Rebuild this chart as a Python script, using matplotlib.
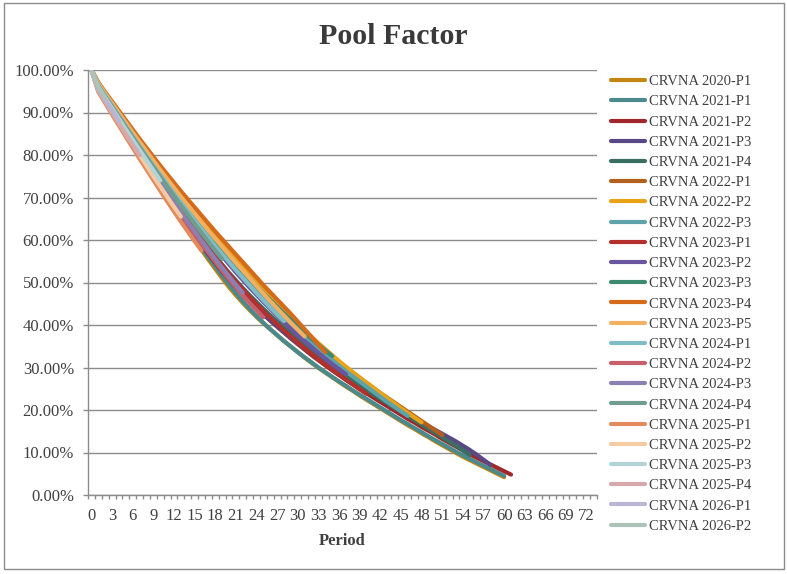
import matplotlib
matplotlib.use("Agg")
import matplotlib.pyplot as plt
from matplotlib.patches import Rectangle
from matplotlib.ticker import FixedLocator, FuncFormatter, NullFormatter

series_names = [
    "CRVNA 2020-P1", "CRVNA 2021-P1", "CRVNA 2021-P2", "CRVNA 2021-P3", "CRVNA 2021-P4",
    "CRVNA 2022-P1", "CRVNA 2022-P2", "CRVNA 2022-P3", "CRVNA 2023-P1", "CRVNA 2023-P2",
    "CRVNA 2023-P3", "CRVNA 2023-P4", "CRVNA 2023-P5", "CRVNA 2024-P1", "CRVNA 2024-P2",
    "CRVNA 2024-P3", "CRVNA 2024-P4", "CRVNA 2025-P1", "CRVNA 2025-P2", "CRVNA 2025-P3",
    "CRVNA 2025-P4", "CRVNA 2026-P1", "CRVNA 2026-P2",
]

colors = [
    "#C0860F", "#4A8A8C", "#A0282A", "#5A4785", "#3A6E62",
    "#B4601C", "#E8A316", "#5FA3AA", "#B3302C", "#6A55A0",
    "#3E8A70", "#D46A1A", "#F2B062", "#80BCC6", "#C8606A",
    "#8A80B2", "#6F9E90", "#E38A5E", "#F5C9A2", "#B3D3D6",
    "#D6A8AC", "#B9B5D2", "#ADC3B8",
]

# Pool factor (%) by period, starting at period 0
crvna_2020_p1 = [100.0, 95.5, 92.9, 90.3, 87.7, 85.1, 82.5, 79.9, 77.3, 74.8,
                 72.3, 69.8, 67.3, 64.8, 62.4, 60.0, 57.7, 55.4, 53.2, 51.0,
                 48.9, 47.0, 45.2, 43.5, 41.9, 40.4, 39.0, 37.6, 36.2, 34.9,
                 33.6, 32.3, 31.1, 29.9, 28.8, 27.7, 26.6, 25.5, 24.5, 23.4,
                 22.4, 21.4, 20.4, 19.4, 18.4, 17.4, 16.4, 15.5, 14.5, 13.6,
                 12.6, 11.7, 10.8, 9.9, 9.0, 8.2, 7.4, 6.6, 5.8, 5.0, 4.2]
crvna_2021_p1 = [100.0, 95.0, 92.5, 90.0, 87.5, 85.0, 82.5, 80.0, 77.5, 75.0,
                 72.6, 70.2, 67.8, 65.4, 63.0, 60.6, 58.3, 56.0, 53.8, 51.6,
                 49.5, 47.5, 45.6, 43.8, 42.1, 40.5, 39.0, 37.6, 36.2, 34.9,
                 33.6, 32.4, 31.2, 30.0, 28.9, 27.8, 26.7, 25.7, 24.6, 23.6,
                 22.6, 21.6, 20.6, 19.6, 18.6, 17.6, 16.7, 15.7, 14.8, 13.8,
                 12.9, 12.0, 11.1, 10.2, 9.3, 8.5, 7.7, 6.9, 6.1, 5.3, 4.5]
crvna_2021_p2 = [100.0, 96.0, 93.4, 90.8, 88.2, 85.6, 83.0, 80.4, 77.9, 75.4,
                 72.9, 70.5, 68.1, 65.7, 63.4, 61.1, 58.9, 56.7, 54.6, 52.6,
                 50.7, 48.9, 47.2, 45.6, 44.0, 42.5, 41.0, 39.6, 38.2, 36.8,
                 35.5, 34.2, 32.9, 31.7, 30.5, 29.3, 28.2, 27.1, 26.0, 24.9,
                 23.9, 22.9, 21.9, 20.9, 19.9, 18.9, 17.9, 17.0, 16.0, 15.1,
                 14.2, 13.2, 12.3, 11.4, 10.5, 9.6, 8.8, 8.0, 7.2, 6.4, 5.6, 4.8]
crvna_2021_p3 = [100.0, 95.8, 93.2, 90.6, 88.0, 85.4, 82.8, 80.2, 77.7, 75.2,
                 72.7, 70.3, 67.9, 65.6, 63.3, 61.1, 58.9, 56.8, 54.8, 52.8,
                 50.9, 49.1, 47.4, 45.7, 44.1, 42.6, 41.1, 39.7, 38.3, 37.0,
                 35.7, 34.4, 33.2, 32.0, 30.8, 29.7, 28.6, 27.5, 26.4, 25.4,
                 24.8, 23.8, 22.8, 21.8, 20.8, 19.8, 18.9, 18.0, 17.1, 16.2,
                 15.3, 14.4, 13.5, 12.6, 11.6, 10.6, 9.5, 8.3, 7.1]
crvna_2021_p4 = [100.0, 96.3, 93.8, 91.3, 88.8, 86.3, 83.8, 81.3, 78.9, 76.5,
                 74.1, 71.8, 69.5, 67.2, 64.9, 62.7, 60.5, 58.3, 56.2, 54.2,
                 52.3, 50.5, 48.7, 47.0, 45.4, 43.8, 42.3, 40.8, 39.4, 38.0,
                 36.6, 35.3, 34.0, 32.7, 31.5, 30.3, 29.1, 28.0, 26.9, 25.8,
                 24.7, 23.7, 22.6, 21.6, 20.6, 19.6, 18.6, 17.6, 16.6, 15.6,
                 14.6, 13.6, 12.6, 11.6, 10.5, 9.4]
crvna_2022_p1 = [100.0, 96.8, 94.4, 92.0, 89.7, 87.4, 85.1, 82.8, 80.6, 78.4,
                 76.2, 74.1, 72.0, 69.9, 67.9, 65.9, 63.9, 62.0, 60.1, 58.2,
                 56.4, 54.6, 52.8, 51.0, 49.3, 47.6, 45.9, 44.3, 42.7, 41.1,
                 39.6, 38.1, 36.7, 35.3, 33.9, 32.6, 31.3, 30.0, 28.8, 27.6,
                 26.4, 25.2, 24.0, 22.9, 21.8, 20.7, 19.6, 18.5, 17.4, 16.3,
                 15.2, 14.1]
crvna_2022_p2 = [100.0, 97.0, 94.6, 92.3, 90.0, 87.7, 85.5, 83.3, 81.1, 78.9,
                 76.8, 74.7, 72.6, 70.6, 68.6, 66.6, 64.7, 62.8, 60.9, 59.0,
                 57.2, 55.4, 53.6, 51.8, 50.1, 48.4, 46.7, 45.0, 43.4, 41.8,
                 40.2, 38.7, 37.2, 35.7, 34.3, 32.9, 31.5, 30.2, 28.9, 27.6,
                 26.4, 25.2, 24.0, 22.8, 21.6, 20.4, 19.3, 18.2, 17.1]
crvna_2022_p3 = [100.0, 96.6, 94.2, 91.8, 89.4, 87.1, 84.8, 82.5, 80.2, 78.0,
                 75.8, 73.6, 71.5, 69.4, 67.3, 65.3, 63.3, 61.3, 59.4, 57.5,
                 55.6, 53.8, 52.0, 50.2, 48.5, 46.8, 45.1, 43.5, 41.9, 40.3,
                 38.8, 37.3, 35.8, 34.4, 33.0, 31.7, 30.4, 29.1, 27.9, 26.7,
                 25.5, 24.3, 23.1, 21.9, 20.8, 19.7, 18.6]
crvna_2023_p1 = [100.0, 96.2, 93.7, 91.2, 88.7, 86.2, 83.7, 81.2, 78.8, 76.4,
                 74.0, 71.6, 69.3, 67.0, 64.7, 62.5, 60.3, 58.2, 56.1, 54.1,
                 52.1, 50.2, 48.4, 46.6, 44.9, 43.3, 41.7, 40.2, 38.7, 37.3,
                 35.9, 34.5, 33.2, 31.9, 30.7, 29.5, 28.3, 27.1, 26.0, 24.9, 23.8]
crvna_2023_p2 = [100.0, 96.5, 94.0, 91.5, 89.1, 86.7, 84.3, 81.9, 79.6, 77.3,
                 75.0, 72.8, 70.6, 68.4, 66.3, 64.2, 62.1, 60.1, 58.1, 56.2,
                 54.3, 52.4, 50.6, 48.8, 47.1, 45.4, 43.8, 42.2, 40.6, 39.1,
                 37.6, 36.2, 34.8, 33.4, 32.1, 30.8, 29.6, 28.4]
crvna_2023_p3 = [100.0, 96.7, 94.3, 91.9, 89.5, 87.2, 84.9, 82.6, 80.4, 78.2,
                 76.0, 73.9, 71.8, 69.7, 67.7, 65.7, 63.7, 61.8, 59.9, 58.0,
                 56.2, 54.4, 52.6, 50.9, 49.2, 47.5, 45.9, 44.3, 42.7, 41.2,
                 39.7, 38.2, 36.8, 35.4, 34.0, 32.7]
crvna_2023_p4 = [100.0, 97.1, 94.8, 92.6, 90.4, 88.2, 86.0, 83.8, 81.7, 79.6,
                 77.5, 75.5, 73.5, 71.5, 69.6, 67.7, 65.8, 63.9, 62.0, 60.2,
                 58.4, 56.6, 54.8, 53.0, 51.2, 49.4, 47.7, 46.0, 44.3, 42.6,
                 40.8, 39.0, 37.2, 35.4, 33.6]
crvna_2023_p5 = [100.0, 96.9, 94.5, 92.2, 89.9, 87.6, 85.3, 83.1, 80.9, 78.7,
                 76.5, 74.4, 72.3, 70.2, 68.2, 66.2, 64.2, 62.2, 60.3, 58.4,
                 56.5, 54.6, 52.8, 51.0, 49.2, 47.4, 45.6, 43.9, 42.2, 40.5,
                 38.9, 37.3]
crvna_2024_p1 = [100.0, 96.4, 94.0, 91.6, 89.2, 86.8, 84.4, 82.1, 79.8, 77.5,
                 75.3, 73.1, 70.9, 68.8, 66.7, 64.6, 62.6, 60.6, 58.6, 56.7,
                 54.8, 52.9, 51.1, 49.3, 47.5, 45.8, 44.1, 42.5, 40.9]
crvna_2024_p2 = [100.0, 95.6, 93.0, 90.4, 87.9, 85.4, 82.9, 80.4, 77.9, 75.5,
                 73.1, 70.7, 68.3, 66.0, 63.7, 61.4, 59.2, 57.0, 54.9, 52.8,
                 50.8, 48.9, 47.0, 45.2, 43.5, 41.8]
crvna_2024_p3 = [100.0, 95.8, 93.3, 90.8, 88.3, 85.8, 83.3, 80.8, 78.4, 76.0,
                 73.6, 71.2, 68.9, 66.6, 64.3, 62.1, 59.9, 57.7, 55.6, 53.5,
                 51.5, 49.5, 47.6]
crvna_2024_p4 = [100.0, 96.2, 93.8, 91.4, 89.0, 86.6, 84.2, 81.8, 79.5, 77.2,
                 74.9, 72.6, 70.4, 68.2, 66.0, 63.8, 61.7, 59.6, 57.5, 55.5]
crvna_2025_p1 = [100.0, 94.9, 92.2, 89.5, 86.9, 84.3, 81.7, 79.1, 76.6, 74.1,
                 71.6, 69.1, 66.7, 64.3, 62.0, 59.7, 57.5]
crvna_2025_p2 = [100.0, 95.4, 92.8, 90.2, 87.6, 85.0, 82.5, 80.0, 77.5, 75.0,
                 72.6, 70.2, 67.8, 65.5]
crvna_2025_p3 = [100.0, 96.0, 93.5, 91.0, 88.5, 86.0, 83.6, 81.2, 78.8, 76.4, 74.0]
crvna_2025_p4 = [100.0, 95.2, 92.6, 90.0, 87.4, 84.9, 82.4, 79.9]
crvna_2026_p1 = [100.0, 95.7, 93.1, 90.5, 88.0]
crvna_2026_p2 = [100.0, 96.0, 93.5]

series_values = [
    crvna_2020_p1, crvna_2021_p1, crvna_2021_p2, crvna_2021_p3, crvna_2021_p4,
    crvna_2022_p1, crvna_2022_p2, crvna_2022_p3, crvna_2023_p1, crvna_2023_p2,
    crvna_2023_p3, crvna_2023_p4, crvna_2023_p5, crvna_2024_p1, crvna_2024_p2,
    crvna_2024_p3, crvna_2024_p4, crvna_2025_p1, crvna_2025_p2, crvna_2025_p3,
    crvna_2025_p4, crvna_2026_p1, crvna_2026_p2,
]

n_periods = 74  # categories 0..73
x_label_periods = list(range(0, 73, 3))
y_ticks = [0, 10, 20, 30, 40, 50, 60, 70, 80, 90, 100]

plt.rcParams["font.family"] = ["Liberation Serif", "DejaVu Serif"]
text_color = "#404040"
grid_color = "#8C8C8C"

fig = plt.figure(figsize=(7.87, 5.74), dpi=100)
ax = fig.add_axes([88 / 787, 1 - 495 / 574, (597 - 88) / 787, (495 - 70) / 574])

for name, vals, col in zip(series_names, series_values, colors):
    ax.plot(range(len(vals)), vals, color=col, lw=3.0, label=name,
            solid_capstyle="round", solid_joinstyle="round")

ax.set_xlim(-0.5, n_periods - 0.5)
ax.set_ylim(0, 100)

# y axis
ax.yaxis.set_major_locator(FixedLocator(y_ticks))
ax.yaxis.set_major_formatter(FuncFormatter(lambda v, p: f"{v:.2f}%"))
ax.grid(axis="y", color=grid_color, lw=1.0)
ax.set_axisbelow(True)
ax.tick_params(axis="y", direction="out", length=3.6, width=1, color=grid_color,
               labelsize=12, labelcolor=text_color, pad=6.5)

# x axis: tick marks between categories, labels at categories
ax.xaxis.set_major_locator(FixedLocator([i - 0.5 for i in range(n_periods + 1)]))
ax.xaxis.set_major_formatter(NullFormatter())
ax.xaxis.set_minor_locator(FixedLocator(x_label_periods))
ax.xaxis.set_minor_formatter(FuncFormatter(lambda v, p: f"{int(round(v))}"))
ax.tick_params(axis="x", which="major", direction="out", length=3, width=1, color=grid_color)
ax.tick_params(axis="x", which="minor", length=0, labelsize=12, labelcolor=text_color, pad=9.5)

for s in ["top", "right"]:
    ax.spines[s].set_visible(False)
for s in ["left", "bottom"]:
    ax.spines[s].set_color(grid_color)
    ax.spines[s].set_linewidth(1.0)

ax.set_xlabel("Period", fontsize=12, fontweight="bold", color=text_color, labelpad=6)

fig.text(0.5, 1 - 37 / 574, "Pool Factor", ha="center", va="center",
         fontsize=21.5, fontweight="bold", color="#3A3A3A")

leg = ax.legend(loc="upper left", bbox_to_anchor=(611 / 787, 1 - 75 / 574),
                bbox_transform=fig.transFigure, frameon=False, fontsize=10.5,
                handlelength=2.3, handletextpad=0.3, labelspacing=0.48,
                borderaxespad=0, borderpad=0)
for t in leg.get_texts():
    t.set_color(text_color)
for h in leg.get_lines():
    h.set_linewidth(3.0)

fig.patches.append(Rectangle((4 / 787, 1 - 569 / 574), 780 / 787, 566 / 574,
                             transform=fig.transFigure, fill=False,
                             edgecolor="#8C8C8C", lw=1.0))

fig.savefig("out.png", dpi=100)
